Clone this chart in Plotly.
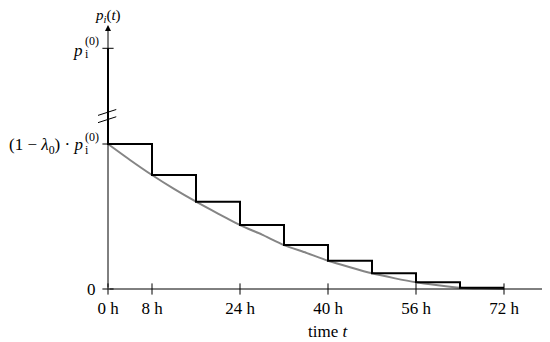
import plotly.graph_objects as go

# ---- data (y in units of (1-λ0)·p_i^(0)) ----
P0_LEVEL = 1.66          # p_i^(0)
START_LEVEL = 1.0        # (1-λ0)·p_i^(0)

step_times = [0, 0, 8, 16, 24, 32, 40, 48, 56, 64, 72]
step_values = [1.66, 1.0, 0.786, 0.602, 0.441, 0.303, 0.195, 0.108, 0.046, 0.009, 0.009]

curve_times = [0, 4, 8, 12, 16, 20, 24, 28, 32, 36, 40, 44, 48, 52, 56, 60, 64, 68, 72]
curve_values = [1.0, 0.89, 0.786, 0.69, 0.602, 0.52, 0.441, 0.375, 0.303, 0.25, 0.195,
                0.15, 0.108, 0.075, 0.046, 0.026, 0.009, 0.003, 0.0]

x_tick_vals = [0, 8, 24, 40, 56, 72]
x_tick_text = ["0 h", "8 h", "24 h", "40 h", "56 h", "72 h"]
y_tick_vals = [0, 1.0, 1.66]

X_MAX = 80.2
Y_MAX = 1.82

FONT = "Liberation Serif"

fig = go.Figure()

fig.add_trace(go.Scatter(x=curve_times, y=curve_values, mode="lines",
                         line=dict(color="#858585", width=2, shape="spline", smoothing=0.6),
                         hoverinfo="skip", showlegend=False))
fig.add_trace(go.Scatter(x=step_times, y=step_values, mode="lines",
                         line=dict(color="black", width=2, shape="hv"),
                         hoverinfo="skip", showlegend=False))
fig.add_trace(go.Scatter(x=x_tick_vals, y=[0] * len(x_tick_vals), mode="markers",
                         marker=dict(symbol="line-ns", size=8, line=dict(width=1, color="black")),
                         hoverinfo="skip", showlegend=False, cliponaxis=False))
fig.add_trace(go.Scatter(x=[0] * len(y_tick_vals), y=y_tick_vals, mode="markers",
                         marker=dict(symbol="line-ew", size=8, line=dict(width=1, color="black")),
                         hoverinfo="skip", showlegend=False, cliponaxis=False))

annotations = []
annotations.append(dict(x=X_MAX, y=0, ax=0, ay=0, xref="x", yref="y", axref="x", ayref="y",
                        text="", showarrow=True, arrowhead=2, arrowsize=1.2, arrowwidth=1,
                        arrowcolor="black", standoff=0, startstandoff=0))
annotations.append(dict(x=0, y=Y_MAX, ax=0, ay=0, xref="x", yref="y", axref="x", ayref="y",
                        text="", showarrow=True, arrowhead=2, arrowsize=1.2, arrowwidth=1,
                        arrowcolor="black", standoff=0, startstandoff=0))

annotations.append(dict(x=0, y=0, xref="x", yref="y", text="0", showarrow=False,
                        xanchor="right", yanchor="middle", xshift=-10,
                        font=dict(family=FONT, size=17, color="black")))
for lvl, main in [(START_LEVEL, "(1 − <i>λ</i><sub>0</sub>) · <i>p</i>"), (P0_LEVEL, "<i>p</i>")]:
    annotations.append(dict(x=0, y=lvl, xref="x", yref="y", text=main, showarrow=False,
                            xanchor="right", yanchor="middle", xshift=-23, yshift=-2,
                            font=dict(family=FONT, size=17, color="black")))
    annotations.append(dict(x=0, y=lvl, xref="x", yref="y", text="(0)", showarrow=False,
                            xanchor="left", yanchor="middle", xshift=-25, yshift=7,
                            font=dict(family=FONT, size=12, color="black")))
    annotations.append(dict(x=0, y=lvl, xref="x", yref="y", text="i", showarrow=False,
                            xanchor="left", yanchor="middle", xshift=-25, yshift=-6,
                            font=dict(family=FONT, size=12, color="black")))

# top label
annotations.append(dict(x=0, y=(291 - 16) / 271, xref="x", yref="paper",
                        text="<i>p</i><sub><i>i</i></sub>(<i>t</i>)",
                        showarrow=False, xanchor="center", yanchor="middle",
                        font=dict(family=FONT, size=15, color="black")))
# x title
annotations.append(dict(x=40, y=(291 - 331) / 271, xref="x", yref="paper", text="time <i>t</i>",
                        showarrow=False, xanchor="center", yanchor="middle",
                        font=dict(family=FONT, size=17, color="black")))

fig.update_layout(annotations=annotations)

for (y0, y1) in [(1.195, 1.238), (1.145, 1.188)]:
    fig.add_shape(type="line", xref="x", yref="y", x0=-2.0, y0=y0, x1=1.5, y1=y1,
                  line=dict(color="black", width=1))

fig.update_layout(
    width=550, height=342,
    margin=dict(l=90, r=8, t=12, b=59, autoexpand=False),
    paper_bgcolor="white", plot_bgcolor="white",
    showlegend=False,
    xaxis=dict(range=[-10 / 5.5, 442 / 5.5], showgrid=False, zeroline=False, showline=False,
               tickvals=x_tick_vals, ticktext=x_tick_text, ticks="outside", ticklen=2,
               tickcolor="rgba(0,0,0,0)",
               tickfont=dict(family=FONT, size=17, color="black"), fixedrange=True,
               automargin=False),
    yaxis=dict(range=[-2 / 145, 269 / 145], showgrid=False, zeroline=False, showline=False,
               showticklabels=False, ticks="", fixedrange=True, automargin=False),
)

fig.write_html("out.html")
